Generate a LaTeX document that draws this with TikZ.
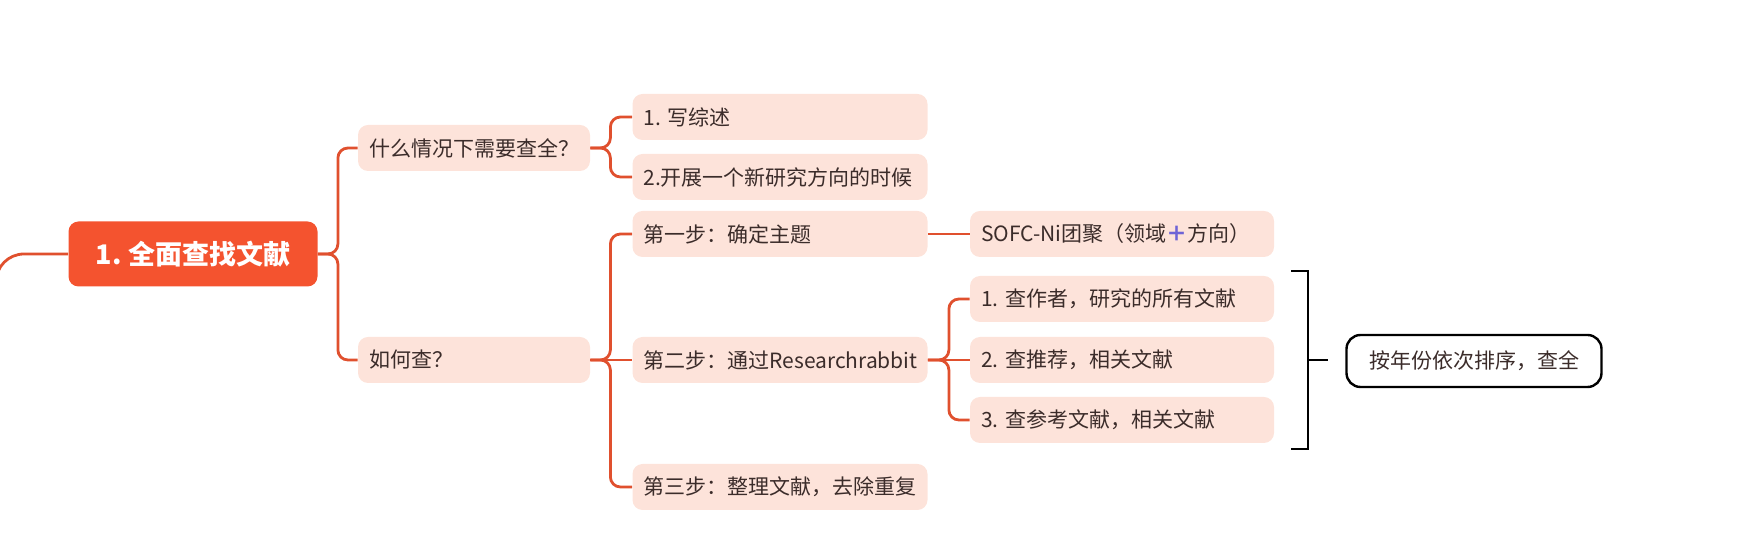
\documentclass[tikz,border=0pt]{standalone}
\usepackage{fontspec}
\setmainfont{Noto Sans CJK SC}
\usepackage{xcolor,tikz}
\definecolor{rootred}{HTML}{F4532F}
\definecolor{leafpink}{HTML}{FDE3DA}
\definecolor{linkred}{HTML}{E0502E}
\definecolor{inkdark}{HTML}{3B2C2A}
\definecolor{plusblue}{HTML}{6E63D6}
\frenchspacing

\begin{document}
\begin{tikzpicture}[x=.5pt,y=-.5pt,
  rootbox/.style={fill=rootred,text=white,rounded corners=5pt,minimum width=124.5pt,minimum height=32.5pt,font=\fontsize{13.5}{16}\selectfont\bfseries},
  leafbox/.style={fill=leafpink,text=inkdark,rounded corners=5pt,minimum height=23pt,inner xsep=5.5pt,align=left,font=\fontsize{10.5}{13}\selectfont},
  qbox/.style={leafbox,text width=105pt},
  stepbox/.style={leafbox,text width=136.5pt},
  tipbox/.style={leafbox,text width=141pt},
  sumbox/.style={draw=black,line width=1.2pt,rounded corners=7pt,text=inkdark,minimum width=127.5pt,minimum height=26pt,font=\fontsize{10.5}{13}\selectfont},
  link/.style={draw=linkred,line width=1.4pt,rounded corners=5pt}]
\useasboundingbox (0,0) rectangle (1753,533);
\node[rootbox] (root) at (193,254) {1. 全面查找文献};
\node[qbox] (when) at (474,148) {什么情况下需要查全？};
\node[qbox] (how) at (474,360) {如何查？};
\node[stepbox] (review) at (780,117) {1. 写综述};
\node[stepbox] (newdir) at (780,177) {2.开展一个新研究方向的时候};
\node[stepbox] (step1) at (780,234) {第一步：确定主题};
\node[stepbox] (step2) at (780,360) {第二步：通过Researchrabbit};
\node[stepbox] (step3) at (780,487) {第三步：整理文献，去除重复};
\node[tipbox] (topic) at (1122,234) {SOFC-Ni团聚（领域{\color{plusblue}\bfseries ＋}方向）};
\node[tipbox] (author) at (1122,299) {1. 查作者，研究的所有文献};
\node[tipbox] (recom) at (1122,360) {2. 查推荐，相关文献};
\node[tipbox] (refs) at (1122,420) {3. 查参考文献，相关文献};
\node[sumbox] (sort) at (1474,361) {按年份依次排序，查全};
\coordinate (tail) at (-4,340);
\draw[link,rounded corners=14pt] (root.west) -| (tail);
\foreach \c in {when,how}
  \draw[link] (root.east) -- ++(20,0) |- (\c.west);
\foreach \c in {review,newdir}
  \draw[link] (when.east) -- ++(20,0) |- (\c.west);
\foreach \c in {step1,step3}
  \draw[link] (how.east) -- ++(20,0) |- (\c.west);
\draw[link] (how) -- (step2);
\draw[link] (step1) -- (topic);
\foreach \c in {author,refs}
  \draw[link] (step2.east) -- ++(21,0) |- (\c.west);
\draw[link] (step2) -- (recom);
\coordinate (btop) at (1291,271);
\coordinate (bbot) at (1291,449);
\coordinate (bmid) at (1308,360);
\draw[line width=1.3pt] (btop) -- ++(17,0) |- (bbot);
\draw[line width=1.3pt] (bmid) -- ++(20,0);
\end{tikzpicture}
\end{document}
